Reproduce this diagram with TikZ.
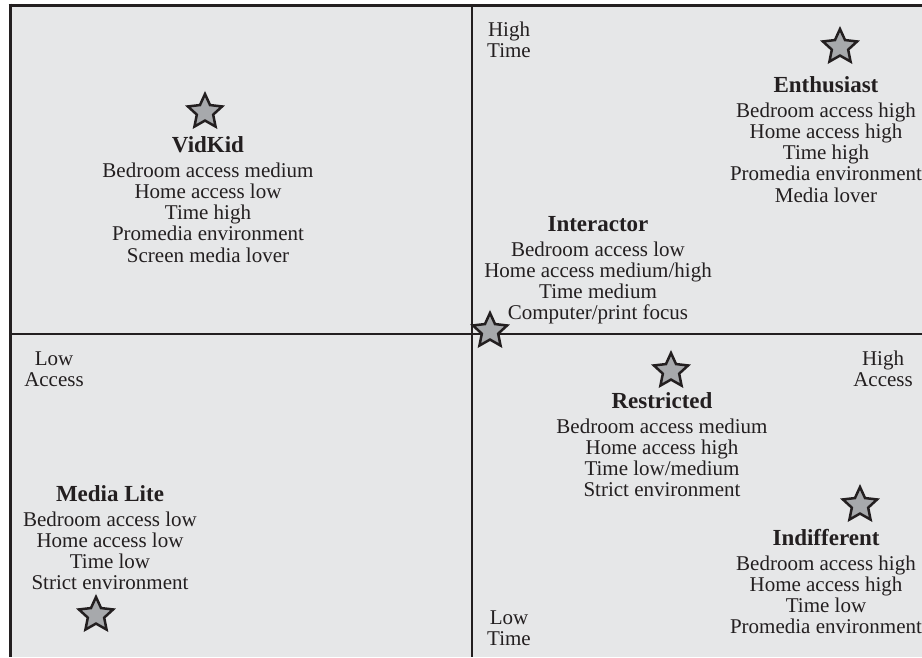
\documentclass[tikz,border=0pt]{standalone}
\usepackage{fontspec}
\setmainfont{Liberation Serif}
\usetikzlibrary{shapes.geometric}
\definecolor{ink}{HTML}{231F20}
\definecolor{panel}{HTML}{E6E7E8}
\definecolor{starfill}{HTML}{A7A9AC}
\newcommand{\bodyfont}{\fontsize{21}{21.3}\selectfont}
\newcommand{\headfont}{\fontsize{23}{21.3}\selectfont\bfseries}
% a persona block: bold heading, then centred lines
\newcommand{\persona}[2]{\begin{tabular}[t]{@{}c@{}}{\headfont #1}\\[3.7pt]#2\end{tabular}}
\newcommand{\axislabel}[1]{\begin{tabular}[t]{@{}c@{}}#1\end{tabular}}
\begin{document}
\begin{tikzpicture}[x=1pt,y=-1pt,
  persona star/.style={star, star points=5, star point ratio=2.1,
    minimum size=36pt, inner sep=0pt, draw=ink, line width=2.5pt, fill=starfill},
  block/.style={anchor=base, inner sep=0pt, text=ink, font=\bodyfont},
  axis/.style={draw=ink, line width=2.8pt},
  frame/.style={draw=ink, line width=3pt}]
\useasboundingbox (0,0) rectangle (922,657);
\fill[white] (0,0) rectangle (922,657);
\fill[panel] (10,5) rectangle (922,657);

% frame and quadrant axes
\coordinate (tl) at (10,5);
\coordinate (tr) at (922,5);
\coordinate (bl) at (10,657);
\coordinate (ml) at (10,334);
\coordinate (mr) at (922,334);
\coordinate (mt) at (472,5);
\coordinate (mb) at (472,657);
\draw[frame] (8.5,5) -- (tr);
\draw[frame] (10,3.5) -- (bl);
\draw[axis] (ml) -- (mr);
\draw[axis] (mt) -- (mb);

% axis labels
\node[block] (hightime) at (509,36) {\axislabel{High\\Time}};
\node[block] (lowtime) at (509,624) {\axislabel{Low\\Time}};
\node[block] (lowaccess) at (54,365) {\axislabel{Low\\Access}};
\node[block] (highaccess) at (883,365) {\axislabel{High\\Access}};

% personas
\node[persona star] (vidkidstar) at (205,112) {};
\node[block] (vidkid) at (208,152) {\persona{VidKid}{Bedroom access medium\\Home access low\\Time high\\Promedia environment\\Screen media lover}};

\node[persona star] (enthstar) at (840,47) {};
\node[block] (enthusiast) at (826,92) {\persona{Enthusiast}{Bedroom access high\\Home access high\\Time high\\Promedia environment\\Media lover}};

\node[block] (interactor) at (598,231) {\persona{Interactor}{Bedroom access low\\Home access medium/high\\Time medium\\Computer/print focus}};
\node[persona star] (interstar) at (490,331) {};

\node[persona star] (restrstar) at (671,371) {};
\node[block] (restricted) at (662,408) {\persona{Restricted}{Bedroom access medium\\Home access high\\Time low/medium\\Strict environment}};

\node[persona star] (indiffstar) at (860,505) {};
\node[block] (indifferent) at (826,545) {\persona{Indifferent}{Bedroom access high\\Home access high\\Time low\\Promedia environment}};

\node[block] (medialite) at (110,501) {\persona{Media Lite}{Bedroom access low\\Home access low\\Time low\\Strict environment}};
\node[persona star] (litestar) at (96,615) {};
\end{tikzpicture}
\end{document}
